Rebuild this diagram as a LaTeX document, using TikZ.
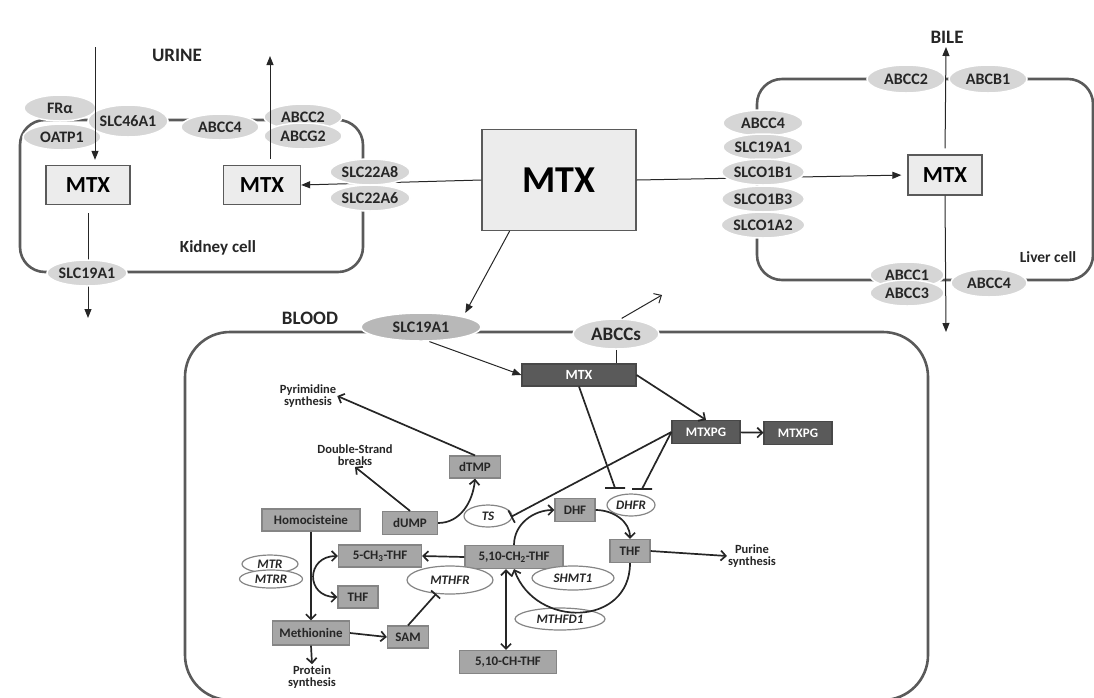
\documentclass[tikz,border=0pt]{standalone}
\usepackage{fontspec}
\setmainfont{Carlito}
\usetikzlibrary{arrows.meta,positioning,shapes.geometric}

\newcommand\fsz[1]{\fontsize{#1}{#1}\selectfont}

\definecolor{wallgray}{HTML}{5A5A5A}
\definecolor{memgray}{HTML}{D6D6D6}
\definecolor{memdark}{HTML}{B8B8B8}
\definecolor{bigfill}{HTML}{ECECEC}
\definecolor{metfill}{HTML}{A6A6A6}
\definecolor{metline}{HTML}{858585}
\definecolor{darkfill}{HTML}{5A5A5A}
\definecolor{txt}{HTML}{262626}

\tikzset{
  wall/.style={draw=wallgray, line width=2.6pt, rounded corners=25pt},
  memb/.style={ellipse, fill=memgray, draw=white, line width=1.5pt, inner sep=0pt,
    minimum width=78pt, minimum height=26pt, font=\fsz{16}\bfseries, text=txt},
  mtxbox/.style={draw=wallgray, fill=bigfill, line width=1.3pt, inner sep=0pt,
    font=\fsz{23}\bfseries, text=black},
  metab/.style={draw=metline, fill=metfill, line width=1.2pt, inner sep=0pt,
    minimum height=23pt, font=\fsz{13}\bfseries, text=txt},
  darkbox/.style={metab, fill=darkfill, draw=darkfill!80!black, text=white},
  enzyme/.style={ellipse, draw=metline, fill=white, line width=1.2pt, inner sep=0pt,
    minimum height=22pt, font=\fsz{13}\bfseries\itshape, text=txt},
  lbl/.style={font=\fsz{12.5}\bfseries, text=txt, align=center, inner sep=1pt},
  head/.style={font=\fsz{19}\bfseries, text=txt},
  thinarr/.style={draw=txt, line width=1pt, -{Triangle[length=9pt,width=7pt]}},
  flow/.style={draw=txt, line width=1.7pt, -{Straight Barb[length=5pt,width=10pt]}},
  dflow/.style={draw=txt, line width=1.7pt,
    {Straight Barb[length=5pt,width=10pt]}-{Straight Barb[length=5pt,width=10pt]}},
  inh/.style={draw=txt, line width=1.7pt}
}

\begin{document}
\begin{tikzpicture}[x=1pt,y=-1pt]
\useasboundingbox (0,0) rectangle (1094,697);
\clip (0,0) rectangle (1094,697);

% Cell walls
\draw[wall] (20,120) rectangle (363,272);
\draw[wall] (757,79) rectangle (1093,280);
\draw[wall, rounded corners=45pt] (185,332) rectangle (928,700);

% MTX boxes
\node[mtxbox, minimum width=84pt, minimum height=39pt] (mtxk1) at (88,185) {MTX};
\node[mtxbox, minimum width=77pt, minimum height=39pt] (mtxk2) at (262,185) {MTX};
\node[mtxbox, minimum width=154pt, minimum height=101pt, font=\fsz{38}\bfseries] (mtx) at (559,180) {MTX};
\node[mtxbox, minimum width=74pt, minimum height=40pt] (mtxl) at (945,175) {MTX};

% connectors behind the membrane
\coordinate (kout) at (88,318);
\draw[thinarr, shorten <=8pt] (mtxk1.south) -- (kout);
\draw[thinarr] (mtx.west) -- (mtxk2.east);
\draw[thinarr, shorten >=6pt] (mtx.east) -- (mtxl.west);

% Kidney cell
\node[memb, minimum width=72pt] (fra) at (60,108) {FRα};
\node[memb] (oatp) at (62,137) {OATP1};
\node[memb, minimum height=32pt] (slc46) at (128,121) {SLC46A1};
\node[memb] (abcc4k) at (220,127) {ABCC4};
\node[memb] (abcc2k) at (303,117) {ABCC2};
\node[memb] (abcg2k) at (303,136) {ABCG2};
\node[memb, minimum width=72pt] (slc22a8) at (370,172) {SLC22A8};
\node[memb, minimum width=72pt] (slc22a6) at (370,198) {SLC22A6};
\node[memb, minimum width=80pt] (slc19k) at (87,273) {SLC19A1};
\node[head] (urine) at (177,55) {URINE};
\node[font=\fsz{17}\bfseries, text=txt] (kidlbl) at (218,248) {Kidney cell};

% Liver cell
\node[memb, minimum width=80pt] (abcc4l) at (763,123) {ABCC4};
\node[memb, minimum width=80pt] (slc19l) at (763,147) {SLC19A1};
\node[memb, minimum width=80pt] (slco1b1) at (763,172) {SLCO1B1};
\node[memb, minimum width=80pt] (slco1b3) at (763,199) {SLCO1B3};
\node[memb, minimum width=80pt] (slco1a2) at (763,225) {SLCO1A2};
\node[memb, minimum height=28pt] (abcc2l) at (906,79) {ABCC2};
\node[memb, minimum height=28pt] (abcb1) at (988,79) {ABCB1};
\node[memb, minimum width=74pt] (abcc1) at (907,275) {ABCC1};
\node[memb, minimum width=74pt] (abcc3) at (907,293) {ABCC3};
\node[memb, minimum width=76pt, minimum height=28pt] (abcc4b) at (989,283) {ABCC4};
\node[head] (bile) at (947,37) {BILE};
\node[font=\fsz{15.5}\bfseries, text=txt] (livlbl) at (1048,257) {Liver cell};

% Blood
\node[memb, fill=memdark, minimum width=120pt, minimum height=28pt] (slc19b) at (421,327) {SLC19A1};
\node[memb, minimum width=86pt, minimum height=30pt, font=\fsz{19}\bfseries] (abccs) at (616,334) {ABCCs};
\node[head] (blood) at (310,318) {BLOOD};

\node[darkbox, minimum width=114pt, minimum height=22pt, font=\fsz{14}\bfseries] (mtxb) at (579,375) {MTX};
\node[darkbox, minimum width=68pt] (mtxpg) at (706,432) {MTXPG};
\node[darkbox, minimum width=68pt] (mtxpg2) at (798,433) {MTXPG};

\node[metab, minimum width=51pt, minimum height=22pt] (dtmp) at (475,467) {dTMP};
\node[metab, minimum width=55pt] (dump) at (410,523) {dUMP};
\node[metab, minimum width=40pt] (dhf) at (575,510) {DHF};
\node[metab, minimum width=40pt] (thf) at (630,551) {THF};
\node[metab, minimum width=98pt] (ch2) at (514,557) {5,10-CH\textsubscript{2}-THF};
\node[metab, minimum width=97pt] (ch) at (508,662) {5,10-CH-THF};
\node[metab, minimum width=83pt, minimum height=22pt] (ch3) at (380,556) {5-CH\textsubscript{3}-THF};
\node[metab, minimum width=40pt, minimum height=22pt] (thfl) at (358,597) {THF};
\node[metab, minimum width=98pt, minimum height=22pt] (homo) at (311,520) {Homocisteine};
\node[metab, minimum width=77pt, minimum height=24pt] (meth) at (311,633) {Methionine};
\node[metab, minimum width=41pt, minimum height=22pt] (sam) at (408,637) {SAM};

\node[enzyme, minimum width=48pt] (ts) at (488,516) {TS};
\node[enzyme, minimum width=48pt] (dhfr) at (631,505) {DHFR};
\node[enzyme, minimum width=82pt, minimum height=24pt] (shmt1) at (573,578) {SHMT1};
\node[enzyme, minimum width=90pt] (mthfd1) at (560,619) {MTHFD1};
\node[enzyme, minimum width=86pt, minimum height=28pt] (mthfr) at (450,580) {MTHFR};
\node[enzyme, minimum width=56pt, minimum height=18pt] (mtr) at (270,564) {MTR};
\node[enzyme, minimum width=63pt, minimum height=18pt] (mtrr) at (271,579) {MTRR};

\node[lbl] (pyr) at (308,396) {Pyrimidine\\synthesis};
\node[lbl] (dsb) at (355,455) {Double-Strand\\breaks};
\node[lbl] (pur) at (752,556) {Purine\\synthesis};
\node[lbl] (prot) at (312,677) {Protein\\synthesis};

% Transport connectors
\coordinate (urinein) at (95,47);
\coordinate (urineout) at (270,56);
\coordinate (bileout) at (946,47);
\coordinate (lout) at (946,332);
\coordinate (effl) at (662,295);
\draw[thinarr, shorten >=5pt] (urinein) -- (urinein |- mtxk1.north);
\draw[thinarr, shorten <=6pt] (urineout |- mtxk2.north) -- (urineout);
\draw[thinarr, shorten <=6pt] (mtxl.north) -- (bileout);
\draw[thinarr] (mtxl.south) -- (lout);
\draw[thinarr, shorten >=4pt] (mtx.-134) -- (slc19b.14);
\draw[thinarr] (slc19b.-60) -- (mtxb.west);
\draw[draw=txt, line width=1pt, -{Straight Barb[length=6pt,width=11pt]}] (abccs.70) -- (effl);
\draw[draw=txt, line width=1pt] (abccs.south) -- (abccs.south |- mtxb.north);

% Folate pathway
\draw[flow] (mtxb.east) -- (mtxpg.north);
\draw[flow] (mtxpg) -- (mtxpg2);
\coordinate (dhfrL) at (615,488);
\coordinate (dhfrR) at (642,489);
\draw[inh] (mtxb.south) -- (dhfrL) ++(-10,0) -- ++(20,0);
\draw[inh] (mtxpg.west) -- (dhfrR) ++(-10,0) -- ++(20,0);
\draw[inh, -{Bar[width=14pt]}, shorten >=-2pt] (mtxpg.west) -- (ts.east);
\draw[flow] (dtmp.north) -- (pyr.east);
\draw[flow] (dump.north) -- (dsb.south);
\draw[flow] (dump.east) to[out=0, in=-95] (dtmp.south);
\draw[flow] (ch2.west) -- (ch3.east);
\draw[dflow] ([xshift=-8pt]ch2.south) -- ([xshift=-8pt]ch2.south |- ch.north);
\draw[flow] (ch2.north) to[out=90, in=180] (dhf.west);
\draw[flow] (dhf.east) to[out=0, in=90] (thf.north);
\draw[flow] (thf.south) to[out=-90, in=-70, looseness=1.4] (ch2.south);
\draw[flow] (thf.east) -- (pur.west);
\draw[flow] (homo.south) -- (meth.north);
\draw[dflow] (ch3.west) to[out=180, in=180, looseness=2] (thfl.west);
\draw[flow] (meth.east) -- (sam.west);
\draw[inh, -{Bar[width=12pt]}] (sam.north) -- (mthfr.225);
\draw[flow] (meth.south) -- (prot.north);
\end{tikzpicture}
\end{document}
